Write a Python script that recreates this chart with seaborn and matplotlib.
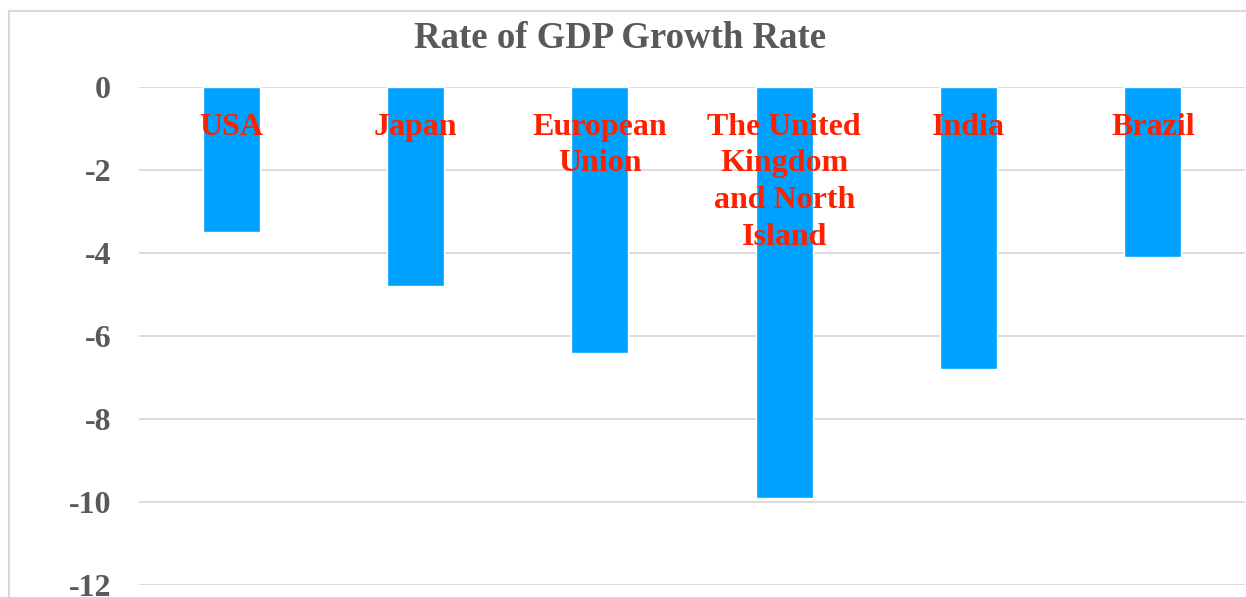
import pandas as pd
import seaborn as sns
import matplotlib.pyplot as plt
from matplotlib.patches import Rectangle

# Data
countries = ['USA', 'Japan', 'European\nUnion', 'The United\nKingdom\nand North\nIsland', 'India', 'Brazil']
growth = [-3.5, -4.8, -6.4, -9.9, -6.8, -4.1]
yticks = [0, -2, -4, -6, -8, -10, -12]

df = pd.DataFrame({'country': countries, 'growth': growth})

sns.set_style('white')
plt.rcParams['font.family'] = ['Liberation Serif', 'DejaVu Serif']

fig = plt.figure(figsize=(12.46, 5.97), dpi=100)
ax = fig.add_axes([139 / 1246, 12 / 597, 1106 / 1246, 498 / 597])

sns.barplot(data=df, x='country', y='growth', color='#00A2FF', width=0.31,
            saturation=1, ax=ax, zorder=2)

ax.set_ylim(-12, 0)
ax.set_xlim(-0.5, len(countries) - 0.5)
ax.set_yticks(yticks)
ax.set_yticklabels([str(t) for t in yticks], fontsize=23, fontweight='bold', color='#595959')
ax.tick_params(axis='y', length=0, pad=20)
ax.set_xticks([])
ax.set_xlabel('')
ax.set_ylabel('')
ax.grid(axis='y', color='#D9D9D9', linewidth=1.3, zorder=0)
ax.set_axisbelow(True)
for s in ax.spines.values():
    s.set_visible(False)

# category labels inside the plot, near the top
for i, name in enumerate(countries):
    ax.text(i, -0.62, name, ha='center', va='top', fontsize=23, fontweight='bold',
            color='#FF2000', linespacing=1.35, zorder=3)

fig.text(620 / 1246, 1 - 39 / 597, 'Rate of GDP Growth Rate', ha='center', va='center',
         fontsize=26.5, fontweight='bold', color='#595959')

# chart frame
fig.patches.append(Rectangle((9 / 1246, -0.1), 1.1, 1 - 11 / 597 + 0.1,
                             transform=fig.transFigure, fill=False,
                             edgecolor='#D9D9D9', linewidth=1.5))

plt.savefig('out.png', dpi=100)
plt.close()
